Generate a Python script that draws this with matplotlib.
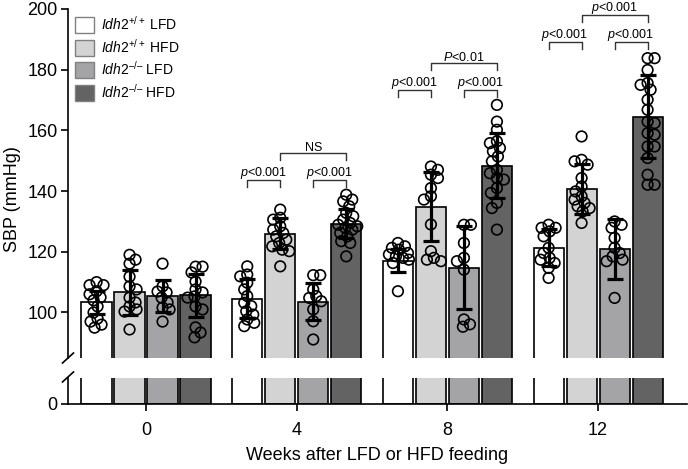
import numpy as np
import matplotlib
matplotlib.use("Agg")
import matplotlib.pyplot as plt
from matplotlib.patches import Patch

plt.rcParams['font.family'] = ['Liberation Sans', 'DejaVu Sans']
plt.rcParams['mathtext.fontset'] = 'custom'
plt.rcParams['mathtext.rm'] = 'Liberation Sans'
plt.rcParams['mathtext.it'] = 'Liberation Sans:italic'

weeks = ["0", "4", "8", "12"]
groups = ["Idh2+/+ LFD", "Idh2+/+ HFD", "Idh2-/- LFD", "Idh2-/- HFD"]
labels = [r'$\mathit{Idh2}^{+/+}$ LFD', r'$\mathit{Idh2}^{+/+}$ HFD',
          '$\\mathit{Idh2}^{\u2013/\u2013}$ LFD', '$\\mathit{Idh2}^{\u2013/\u2013}$ HFD']
colors = ['#ffffff', '#d3d3d3', '#a4a4a7', '#636363']

# bar heights (mean) and SD, rows = week, cols = group
means = [[103.3, 106.6, 105.5, 105.6],
         [104.6, 126.0, 103.6, 129.3],
         [117.1, 134.9, 114.8, 148.4],
         [121.4, 140.8, 121.0, 164.5]]
sds = [[3.7, 7.3, 5.2, 7.0],
       [6.3, 5.0, 6.0, 4.9],
       [3.7, 11.4, 13.7, 10.7],
       [6.0, 8.2, 9.9, 13.7]]

# individual animals
pts = [
    [[110, 109, 107, 106, 105, 104, 102, 100, 98, 97, 96, 95, 109],
     [119, 117.4, 116.1, 111.8, 108.6, 107.6, 104.9, 103.3, 102, 101, 100.3, 94.4],
     [116.1, 108.6, 106.9, 106.6, 104.9, 103.3, 101.6, 101, 97],
     [115.1, 115.1, 113.2, 110.2, 107.6, 106.6, 105.3, 104.9, 102, 101, 95.1, 93.4, 91.8]],
    [[115.2, 112.5, 111.9, 109.8, 107.6, 105.4, 103.2, 102.1, 100.4, 99.3, 97.7, 96.6, 95.5],
     [133.9, 131.2, 130.6, 128.4, 127.3, 126.2, 125.1, 124, 122.9, 121.8, 120.7, 120.2, 115.2],
     [112.3, 112.3, 107.6, 105.4, 104.8, 103.7, 101, 97.1, 91.1],
     [138.8, 137.2, 136.6, 135, 132.8, 131.7, 130.6, 129.5, 128.9, 128.4, 127.9, 127.3,
      126.2, 125.1, 123.5, 122.9, 118.5]],
    [[122.9, 121.8, 121.3, 120.7, 119.6, 119.1, 118.5, 118, 117.4, 116.3, 107],
     [148.1, 147, 145.4, 144.3, 141, 138.3, 137.2, 129, 120.2, 117.4, 116.9, 118],
     [128.9, 128.9, 122.9, 116.9, 118, 114.1, 97.7, 96.1, 95.3],
     [168.4, 162.9, 160.2, 156.4, 155.8, 154.2, 153.1, 151.4, 149.8, 147, 145.9, 144.3,
      143.8, 141, 139.4, 136.1, 134.4, 127.3]],
    [[128.9, 127.9, 127.9, 126.7, 125.1, 121.3, 119.6, 118, 117.4, 116.3, 114.7, 111.4],
     [158, 150.3, 149.8, 148.7, 144.3, 141.5, 139.9, 138.3, 137.2, 136.1, 135, 134.4, 133.3, 129.5],
     [130, 128.9, 127.9, 124.6, 121.3, 119.6, 118.5, 117.4, 116.9, 104.8],
     [183.8, 183.8, 179.9, 175.6, 175, 173.4, 170.1, 166.8, 162.9, 162.4, 159.1, 158.6,
      154.7, 154.7, 150.9, 145.4, 142.1, 142.1]],
]

# significance brackets: (week index, group a, group b, y, text)
brackets = [
    (1, 0, 1, 143.8, r'$\mathit{p}$<0.001'),
    (1, 2, 3, 143.8, r'$\mathit{p}$<0.001'),
    (1, 1, 3, 152.6, 'NS'),
    (2, 0, 1, 173.4, r'$\mathit{p}$<0.001'),
    (2, 2, 3, 173.4, r'$\mathit{p}$<0.001'),
    (2, 1, 3, 182.2, r'$\mathit{P}$<0.01'),
    (3, 0, 1, 189.2, r'$\mathit{p}$<0.001'),
    (3, 2, 3, 189.2, r'$\mathit{p}$<0.001'),
    (3, 1, 3, 198.0, r'$\mathit{p}$<0.001'),
]

step = 0.219
width = 0.2
offsets = (np.arange(4) - 1.5) * step


def swarm(vals, xs=150.7, ys=3.04, d=7.0, maxoff=11):
    vals = np.asarray(vals, float)
    order = np.argsort(-vals)
    placed = []
    offs = np.zeros(len(vals))
    cands = sorted(np.arange(-maxoff, maxoff + 0.1, 1.0), key=lambda c: (abs(c), c))
    for k, i in enumerate(order):
        y = vals[i] * ys
        best, bestpen = 0, np.inf
        cc = cands if k % 2 == 0 else [-c for c in cands]
        for c in cc:
            pen = sum(max(0, d - np.hypot(c - px, y - py)) for px, py in placed)
            if pen == 0:
                best = c
                break
            if pen < bestpen:
                bestpen, best = pen, c
        offs[i] = best
        placed.append((best, y))
    return offs / xs


fig = plt.figure(figsize=(6.88, 4.69), dpi=100)
ax = fig.add_axes([68 / 688, 1 - 358 / 469, 619 / 688, 349 / 469])
axb = fig.add_axes([68 / 688, 1 - 404 / 469, 619 / 688, 26 / 469])

xg = np.arange(len(weeks))
m = np.array(means)
s = np.array(sds)
for j in range(4):
    for a in (ax, axb):
        a.bar(xg + offsets[j], m[:, j], width, color=colors[j], edgecolor='black',
              linewidth=1.2, zorder=2)
    for i in range(len(weeks)):
        v = np.array(pts[i][j])
        xo = xg[i] + offsets[j] + swarm(v)
        ax.scatter(xo, v, s=58, facecolors='none', edgecolors='black', linewidths=1.2, zorder=3)
    ax.errorbar(xg + offsets[j], m[:, j], yerr=s[:, j], fmt='none', ecolor='black',
                elinewidth=2.3, capsize=5.5, capthick=2.3, zorder=4)

for wi, ga, gb, y, txt in brackets:
    x1 = xg[wi] + offsets[ga]
    x2 = xg[wi] + offsets[gb]
    ax.plot([x1, x1, x2, x2], [y - 2.3, y, y, y - 2.3], color='#333333', lw=1.0,
            clip_on=False, zorder=5)
    ax.annotate(txt, ((x1 + x2) / 2, y), xytext=(0, -1.0), textcoords='offset points',
                ha='center', va='bottom', fontsize=9, annotation_clip=False)

xlim = (-0.518, 3.59)
for a in (ax, axb):
    a.set_xlim(*xlim)
    a.spines['top'].set_visible(False)
    a.spines['right'].set_visible(False)
    a.tick_params(axis='y', labelsize=13, length=5, width=1.2, pad=2.5)
    a.spines['left'].set_linewidth(1.2)

ax.set_ylim(85, 200)
ax.set_yticks([100, 120, 140, 160, 180, 200])
ax.spines['bottom'].set_visible(False)
ax.set_xticks([])

axb.set_ylim(0, 8.55)
axb.set_yticks([0])
axb.spines['bottom'].set_linewidth(1.2)
axb.set_xticks(xg)
axb.set_xticklabels(weeks)
axb.tick_params(axis='x', labelsize=13, length=5, width=1.2, pad=8)
axb.set_xlabel('Weeks after LFD or HFD feeding', fontsize=13, labelpad=6)

fig.text(0.018, 0.575, 'SBP (mmHg)', rotation=90, fontsize=13, ha='center', va='center')

# break marks
dx, dy = 5.5 / 619, 5 / 349
ax.plot([-dx, dx], [-dy, dy], transform=ax.transAxes, color='black', lw=1.2, clip_on=False)
dy2 = 5 / 26
axb.plot([-dx, dx], [1 - dy2 + 0.04, 1 + dy2 + 0.04], transform=axb.transAxes,
         color='black', lw=1.2, clip_on=False)

handles = [Patch(facecolor=c, edgecolor='#808080', linewidth=1.0) for c in colors]
ax.legend(handles, labels, loc='upper left', bbox_to_anchor=(75 / 688, 1 - 15 / 469),
          bbox_transform=fig.transFigure, frameon=False, fontsize=10,
          handlelength=1.4, handleheight=1.4, labelspacing=0.3, handletextpad=0.5,
          borderaxespad=0, borderpad=0)

fig.savefig('out.png', dpi=100)
